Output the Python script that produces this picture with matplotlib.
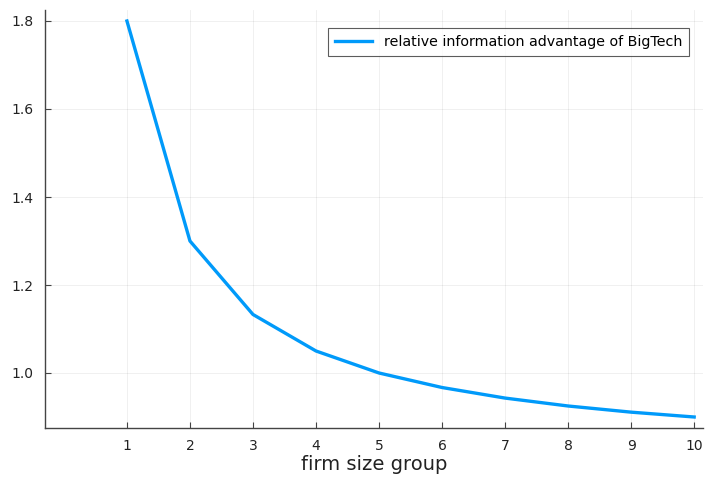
import numpy as np
import matplotlib.pyplot as plt

# data ----------------------------------------------------------------------

size_group = [1, 2, 3, 4, 5, 6, 7, 8, 9, 10]
info_advantage = [1.8, 1.3, 1.133, 1.05, 1.0, 0.967, 0.943, 0.925, 0.911, 0.9]
yticks = [1.0, 1.2, 1.4, 1.6, 1.8]

# figure --------------------------------------------------------------------

fig = plt.figure(figsize=(7.05, 4.80), dpi=100)
ax = fig.add_axes([45/705, 52/480, 658/705, 418/480])

ax.plot(size_group, info_advantage, color="#009AFA", linewidth=2.4,
        label="relative information advantage of BigTech")

ax.set_xlim(-0.30, 10.14)
ax.set_ylim(0.875, 1.825)
ax.set_xticks(size_group)
ax.set_yticks(yticks)
ax.set_yticklabels([f"{v:.1f}" for v in yticks])

ax.grid(True, color="black", alpha=0.07, linewidth=0.6)
ax.spines["top"].set_visible(False)
ax.spines["right"].set_visible(False)
for side in ("left", "bottom"):
    ax.spines[side].set_color("#444444")
    ax.spines[side].set_linewidth(1.0)
ax.tick_params(direction="in", length=4, width=0.8, color="#444444",
               labelsize=10, labelcolor="#222222", pad=8)

ax.set_xlabel("firm size group", fontsize=14, color="#222222", labelpad=1)

leg = ax.legend(loc="upper right", fontsize=10.3, frameon=True, fancybox=False,
                handlelength=2.6, borderpad=0.5, bbox_to_anchor=(0.99, 0.975))
leg.get_frame().set_edgecolor("#333333")
leg.get_frame().set_linewidth(0.8)

plt.savefig("out.png", dpi=100)
